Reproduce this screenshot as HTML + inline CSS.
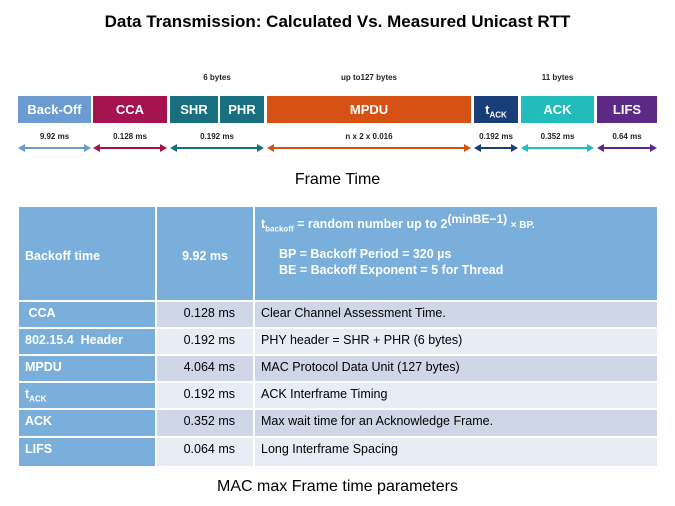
<!DOCTYPE html>
<html><head><style>
body{margin:0;width:675px;height:506px;background:#fff;font-family:"Liberation Sans",sans-serif;position:relative;overflow:hidden}
.a{position:absolute}
.box{position:absolute;top:96px;height:27px;color:#fff;font-weight:bold;font-size:13px;text-align:center;line-height:27px}
.lab{position:absolute;top:132px;font-size:8px;font-weight:bold;color:#222;text-align:center}
.top{position:absolute;top:73px;font-size:8px;font-weight:bold;color:#222;text-align:center}
table{position:absolute;left:17px;top:205px;width:642px;border-collapse:collapse;table-layout:fixed;font-family:"Liberation Sans Narrow","Liberation Sans",sans-serif;font-size:12.5px}
td{border:2px solid #fff;padding:0 6px;vertical-align:top;padding-top:4px;white-space:nowrap;overflow:hidden}
td.c1{background:#7aaedb;color:#fff;font-weight:bold}
td.c2{text-align:right;padding-right:18px}
.d td.c2,.d td.c3{background:#cfd6e7}
.l td.c2,.l td.c3{background:#e8ecf4}
</style></head><body>
<div class="a" style="left:0;width:675px;top:12px;text-align:center;font-weight:bold;font-size:17px">Data Transmission: Calculated Vs. Measured Unicast RTT</div>
<div class="top" style="left:170px;width:94px">6 bytes</div>
<div class="top" style="left:267px;width:204px">up to127 bytes</div>
<div class="top" style="left:521px;width:73px">11 bytes</div>
<div class="box" style="left:18px;width:73px;background:#6b9bd1">Back-Off</div>
<div class="box" style="left:93px;width:74px;background:#a4134e">CCA</div>
<div class="box" style="left:170px;width:48px;background:#176f80">SHR</div>
<div class="box" style="left:220px;width:44px;background:#176f80">PHR</div>
<div class="box" style="left:267px;width:204px;background:#d55214">MPDU</div>
<div class="box" style="left:474px;width:44px;background:#183e78">t<sub style="font-size:8px">ACK</sub></div>
<div class="box" style="left:521px;width:73px;background:#22bcbc">ACK</div>
<div class="box" style="left:597px;width:60px;background:#5c2a86">LIFS</div>
<div class="lab" style="left:18px;width:73px">9.92 ms</div>
<div class="lab" style="left:93px;width:74px">0.128 ms</div>
<div class="lab" style="left:170px;width:94px">0.192 ms</div>
<div class="lab" style="left:267px;width:204px">n x 2 x 0.016</div>
<div class="lab" style="left:474px;width:44px">0.192 ms</div>
<div class="lab" style="left:521px;width:73px">0.352 ms</div>
<div class="lab" style="left:597px;width:60px">0.64 ms</div>
<svg class="a" style="left:0;top:142px" width="675" height="12">
<g stroke-width="2">
<line x1="22" y1="6" x2="87" y2="6" stroke="#6b9bd1"/><polygon points="18,6 25,2 25,10" fill="#6b9bd1"/><polygon points="91,6 84,2 84,10" fill="#6b9bd1"/>
<line x1="97" y1="6" x2="163" y2="6" stroke="#a4134e"/><polygon points="93,6 100,2 100,10" fill="#a4134e"/><polygon points="167,6 160,2 160,10" fill="#a4134e"/>
<line x1="174" y1="6" x2="260" y2="6" stroke="#176f80"/><polygon points="170,6 177,2 177,10" fill="#176f80"/><polygon points="264,6 257,2 257,10" fill="#176f80"/>
<line x1="271" y1="6" x2="467" y2="6" stroke="#d55214"/><polygon points="267,6 274,2 274,10" fill="#d55214"/><polygon points="471,6 464,2 464,10" fill="#d55214"/>
<line x1="478" y1="6" x2="514" y2="6" stroke="#183e78"/><polygon points="474,6 481,2 481,10" fill="#183e78"/><polygon points="518,6 511,2 511,10" fill="#183e78"/>
<line x1="525" y1="6" x2="590" y2="6" stroke="#22bcbc"/><polygon points="521,6 528,2 528,10" fill="#22bcbc"/><polygon points="594,6 587,2 587,10" fill="#22bcbc"/>
<line x1="601" y1="6" x2="653" y2="6" stroke="#5c2a86"/><polygon points="597,6 604,2 604,10" fill="#5c2a86"/><polygon points="657,6 650,2 650,10" fill="#5c2a86"/>
</g></svg>
<div class="a" style="left:0;width:675px;top:171px;text-align:center;font-size:16px">Frame Time</div>
<table>
<colgroup><col style="width:138px"><col style="width:98px"><col></colgroup>
<tr style="height:95px"><td class="c1" style="vertical-align:middle">Backoff time</td><td class="c2" style="background:#7aaedb;color:#fff;font-weight:bold;text-align:center;vertical-align:middle;padding-right:6px">9.92 ms</td><td class="c3" style="background:#7aaedb;color:#fff;font-weight:bold;line-height:16px">t<sub style="font-size:8px">backoff</sub> = random number up to 2<sup style="font-size:12px">(minBE−1)</sup> <span style="font-size:10px">× BP.</span><br><div style="padding-left:18px;margin-top:8px">BP = Backoff Period = 320 µs<br>BE = Backoff Exponent = 5 for Thread</div></td></tr>
<tr class="d" style="height:27px"><td class="c1">&nbsp;CCA</td><td class="c2">0.128 ms</td><td class="c3">Clear Channel Assessment Time.</td></tr>
<tr class="l" style="height:27px"><td class="c1">802.15.4 &nbsp;Header</td><td class="c2">0.192 ms</td><td class="c3">PHY header = SHR + PHR (6 bytes)</td></tr>
<tr class="d" style="height:27px"><td class="c1">MPDU</td><td class="c2">4.064 ms</td><td class="c3">MAC Protocol Data Unit (127 bytes)</td></tr>
<tr class="l" style="height:27px"><td class="c1">t<sub style="font-size:8px">ACK</sub></td><td class="c2">0.192 ms</td><td class="c3">ACK Interframe Timing</td></tr>
<tr class="d" style="height:28px"><td class="c1">ACK</td><td class="c2">0.352 ms</td><td class="c3">Max wait time for an Acknowledge Frame.</td></tr>
<tr class="l" style="height:30px"><td class="c1">LIFS</td><td class="c2">0.064 ms</td><td class="c3">Long Interframe Spacing</td></tr>
</table>
<div class="a" style="left:0;width:675px;top:478px;text-align:center;font-size:16px">MAC max Frame time parameters</div>
</body></html>
